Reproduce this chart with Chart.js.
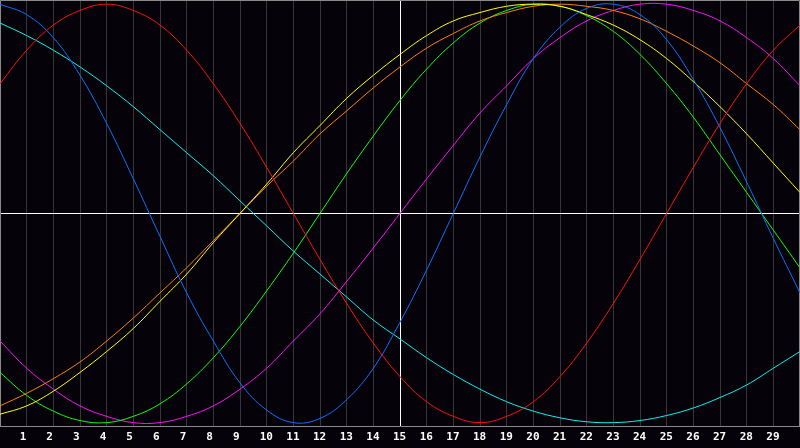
<!DOCTYPE html>
<html>
<head>
<meta charset="utf-8">
<script src="https://cdn.jsdelivr.net/npm/chart.js@4/dist/chart.umd.min.js"></script>
<style>
  html, body { margin: 0; padding: 0; background: #050309; }
  #wrap { width: 800px; height: 448px; }
</style>
</head>
<body>
<div id="wrap"><canvas id="chart" width="800" height="448"></canvas></div>
<script>
// x positions 0..30, one value per curve at each position
const xs = Array.from({ length: 31 }, (_, i) => i);
const tickLabels = ["1","2","3","4","5","6","7","8","9","10","11","12","13","14","15",
  "16","17","18","19","20","21","22","23","24","25","26","27","28","29"];

const red = [0.62,0.78,0.90,0.97,1.00,0.97,0.90,0.78,0.62,0.43,0.22,0.00,-0.22,-0.43,-0.62,
  -0.78,-0.90,-0.97,-1.00,-0.97,-0.90,-0.78,-0.62,-0.43,-0.22,0.00,0.22,0.43,0.62,0.78,0.90];
const blue = [1.00,0.95,0.84,0.66,0.43,0.165,-0.11,-0.38,-0.61,-0.81,-0.94,-1.00,-0.98,-0.89,-0.74,
  -0.52,-0.27,0.00,0.27,0.52,0.74,0.89,0.98,1.00,0.95,0.83,0.64,0.41,0.15,-0.12,-0.38];
const cyan = [0.91,0.85,0.78,0.70,0.61,0.51,0.40,0.29,0.18,0.06,-0.06,-0.18,-0.29,-0.40,-0.51,
  -0.60,-0.69,-0.77,-0.84,-0.90,-0.945,-0.977,-0.996,-1.00,-0.99,-0.966,-0.93,-0.88,-0.82,-0.74,-0.66];
const yellow = [-0.96,-0.92,-0.85,-0.76,-0.66,-0.55,-0.42,-0.29,-0.14,0.00,0.14,0.29,0.42,0.55,0.66,
  0.76,0.85,0.92,0.96,0.99,1.00,0.99,0.95,0.90,0.83,0.74,0.63,0.51,0.38,0.24,0.10];
const orange = [-0.92,-0.86,-0.79,-0.71,-0.61,-0.50,-0.38,-0.26,-0.13,0.00,0.13,0.25,0.38,0.49,0.60,
  0.70,0.79,0.86,0.92,0.96,0.99,1.00,0.99,0.97,0.93,0.87,0.80,0.72,0.62,0.52,0.40];
const green = [-0.76,-0.87,-0.945,-0.99,-1.00,-0.97,-0.91,-0.815,-0.69,-0.54,-0.37,-0.19,0.00,0.19,0.37,
  0.54,0.69,0.815,0.91,0.97,1.00,0.99,0.945,0.87,0.76,0.62,0.46,0.28,0.10,-0.08,-0.26];
const magenta = [-0.61,-0.74,-0.84,-0.92,-0.97,-1.00,-1.00,-0.97,-0.92,-0.84,-0.74,-0.61,-0.48,-0.325,-0.165,
  0.00,0.165,0.325,0.48,0.61,0.74,0.84,0.92,0.97,1.00,1.00,0.97,0.92,0.84,0.74,0.61];

const series = [
  { name: "red", values: red, color: "#ff1010" },
  { name: "blue", values: blue, color: "#1070ff" },
  { name: "cyan", values: cyan, color: "#10f0f0" },
  { name: "yellow", values: yellow, color: "#ffff10" },
  { name: "orange", values: orange, color: "#ff8010" },
  { name: "green", values: green, color: "#10ff10" },
  { name: "magenta", values: magenta, color: "#ff10ff" }
];

// white horizontal zero line + grey frame
const crossPlugin = {
  id: "cross",
  beforeDatasetsDraw(chart) {
    const { ctx, chartArea, scales } = chart;
    const y0 = Math.round(scales.y.getPixelForValue(0)) + 0.5;
    ctx.save();
    ctx.strokeStyle = "#ffffff";
    ctx.lineWidth = 1;
    ctx.beginPath();
    ctx.moveTo(chartArea.left, y0);
    ctx.lineTo(chartArea.right, y0);
    ctx.stroke();
    ctx.strokeStyle = "#8a8a8a";
    ctx.beginPath();
    ctx.moveTo(chartArea.left + 0.5, chartArea.bottom);
    ctx.lineTo(chartArea.left + 0.5, chartArea.top + 0.5);
    ctx.lineTo(chartArea.right - 0.5, chartArea.top + 0.5);
    ctx.lineTo(chartArea.right - 0.5, chartArea.bottom);
    ctx.stroke();
    ctx.restore();
  }
};

const bg = {
  id: "bg",
  beforeDraw(chart) {
    const c = chart.ctx;
    c.save();
    c.fillStyle = "#050309";
    c.fillRect(0, 0, chart.width, chart.height);
    c.restore();
  }
};

new Chart(document.getElementById("chart"), {
  type: "line",
  data: {
    datasets: series.map(s => ({
      label: s.name,
      data: xs.map((x, i) => ({ x: x, y: s.values[i] })),
      borderColor: s.color,
      borderWidth: 1,
      pointRadius: 0,
      tension: 0.4,
      fill: false
    }))
  },
  options: {
    responsive: false,
    animation: false,
    devicePixelRatio: 1,
    layout: { padding: 0 },
    plugins: { legend: { display: false }, tooltip: { enabled: false } },
    scales: {
      x: {
        type: "linear",
        min: 0,
        max: 30,
        afterFit: s => { s.paddingLeft = 0; s.paddingRight = 0; },
        ticks: {
          stepSize: 1,
          color: "#ffffff",
          font: { family: "DejaVu Sans Mono", size: 11, weight: "bold" },
          padding: 4,
          align: "start",
          labelOffset: -7,
          maxRotation: 0,
          autoSkip: false,
          callback: v => (v >= 1 && v <= 29) ? tickLabels[v - 1] : ""
        },
        grid: {
          drawTicks: false,
          color: ctx => ctx.tick && ctx.tick.value === 15 ? "#ffffff" : "#363636"
        },
        border: { color: "#8a8a8a" }
      },
      y: {
        display: false,
        min: -1.02,
        max: 1.02
      }
    }
  },
  plugins: [bg, crossPlugin]
});
</script>
</body>
</html>
